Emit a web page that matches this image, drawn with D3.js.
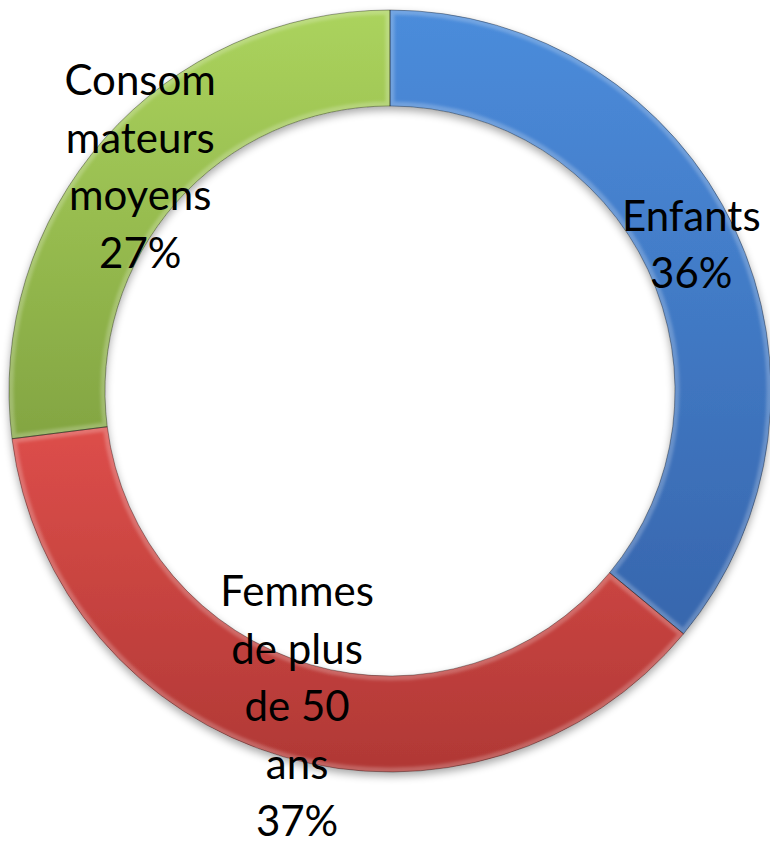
<!DOCTYPE html>
<html>
<head>
<meta charset="utf-8">
<script src="https://cdn.jsdelivr.net/npm/d3@7"></script>
<style>
  html, body { margin: 0; padding: 0; background: #ffffff; }
  svg { display: block; }
</style>
</head>
<body>
<script>
// Segments, in clockwise order from 12 o'clock
const categories = ["Enfants", "Femmes de plus de 50 ans", "Consommateurs moyens"];
const shares = [36, 37, 27];
// Label lines as they wrap inside the ring
const labelLines = [
  ["Enfants"],
  ["Femmes", "de plus", "de 50", "ans"],
  ["Consom", "mateurs", "moyens"]
];
const percentLabels = ["36%", "37%", "27%"];
// Gradient stops (top, bottom) for each segment
const colorTop = ["#4b8cdb", "#dd4e4a", "#abd35d"];
const colorBottom = ["#3766ad", "#b03835", "#83a542"];

const W = 770, H = 845;
const cx = 390, cy = 391;
const outerR = 381, innerR = 285;

const svg = d3.select("body").append("svg")
  .attr("width", W).attr("height", H);

const defs = svg.append("defs");

// soft shadow under the ring
const shadow = defs.append("filter").attr("id", "ringShadow")
  .attr("x", "-10%").attr("y", "-10%").attr("width", "120%").attr("height", "120%");
shadow.append("feGaussianBlur").attr("in", "SourceAlpha").attr("stdDeviation", 4).attr("result", "blur");
shadow.append("feOffset").attr("in", "blur").attr("dx", 0).attr("dy", 4).attr("result", "off");
shadow.append("feComponentTransfer").attr("in", "off").attr("result", "sh")
  .append("feFuncA").attr("type", "linear").attr("slope", 0.35);
const merge = shadow.append("feMerge");
merge.append("feMergeNode").attr("in", "sh");
merge.append("feMergeNode").attr("in", "SourceGraphic");

// blur for the bevel highlight
defs.append("filter").attr("id", "soft")
  .append("feGaussianBlur").attr("stdDeviation", 1.6);

categories.forEach((c, i) => {
  const g = defs.append("linearGradient").attr("id", "grad" + i)
    .attr("x1", 0).attr("y1", 0).attr("x2", 0).attr("y2", 1);
  g.append("stop").attr("offset", "0%").attr("stop-color", colorTop[i]);
  g.append("stop").attr("offset", "100%").attr("stop-color", colorBottom[i]);
});

const pie = d3.pie().sort(null).value(d => d);
const arcs = pie(shares);
const arc = d3.arc().innerRadius(innerR).outerRadius(outerR);

arcs.forEach((a, i) => {
  defs.append("clipPath").attr("id", "clip" + i)
    .append("path").attr("d", arc(a)).attr("transform", `translate(${cx},${cy})`);
});

const ring = svg.append("g").attr("filter", "url(#ringShadow)");
const slices = ring.append("g").attr("transform", `translate(${cx},${cy})`);

slices.selectAll("path.slice")
  .data(arcs)
  .join("path")
  .attr("class", "slice")
  .attr("d", arc)
  .attr("fill", (d, i) => `url(#grad${i})`);

// bevel: light inner edge, clipped to each segment
const bevel = svg.append("g");
arcs.forEach((a, i) => {
  bevel.append("g").attr("clip-path", `url(#clip${i})`)
    .append("path")
    .attr("transform", `translate(${cx},${cy})`)
    .attr("d", arc(a))
    .attr("fill", "none")
    .attr("stroke", "#ffffff")
    .attr("stroke-opacity", 0.22)
    .attr("stroke-width", 9)
    .attr("filter", "url(#soft)");
});

// thin dark outline of each segment
svg.append("g").attr("transform", `translate(${cx},${cy})`)
  .selectAll("path")
  .data(arcs)
  .join("path")
  .attr("d", arc)
  .attr("fill", "none")
  .attr("stroke", "#000000")
  .attr("stroke-opacity", 0.35)
  .attr("stroke-width", 1);

// labels, centred on each segment's centroid
const lineStep = 57.5;
const capH = 29;
const labels = svg.append("g")
  .attr("font-family", "Lato, 'Open Sans', sans-serif")
  .attr("font-size", 42)
  .attr("fill", "#000000")
  .attr("text-anchor", "middle");

arcs.forEach((a, i) => {
  const [x, y] = arc.centroid(a);
  const lines = labelLines[i].concat([percentLabels[i]]);
  const n = lines.length;
  const firstBase = cy + y + capH / 2 - (n - 1) * lineStep / 2 - 4;
  const t = labels.append("text");
  lines.forEach((ln, k) => {
    t.append("tspan")
      .attr("x", cx + x)
      .attr("y", firstBase + k * lineStep)
      .text(ln);
  });
});
</script>
</body>
</html>
